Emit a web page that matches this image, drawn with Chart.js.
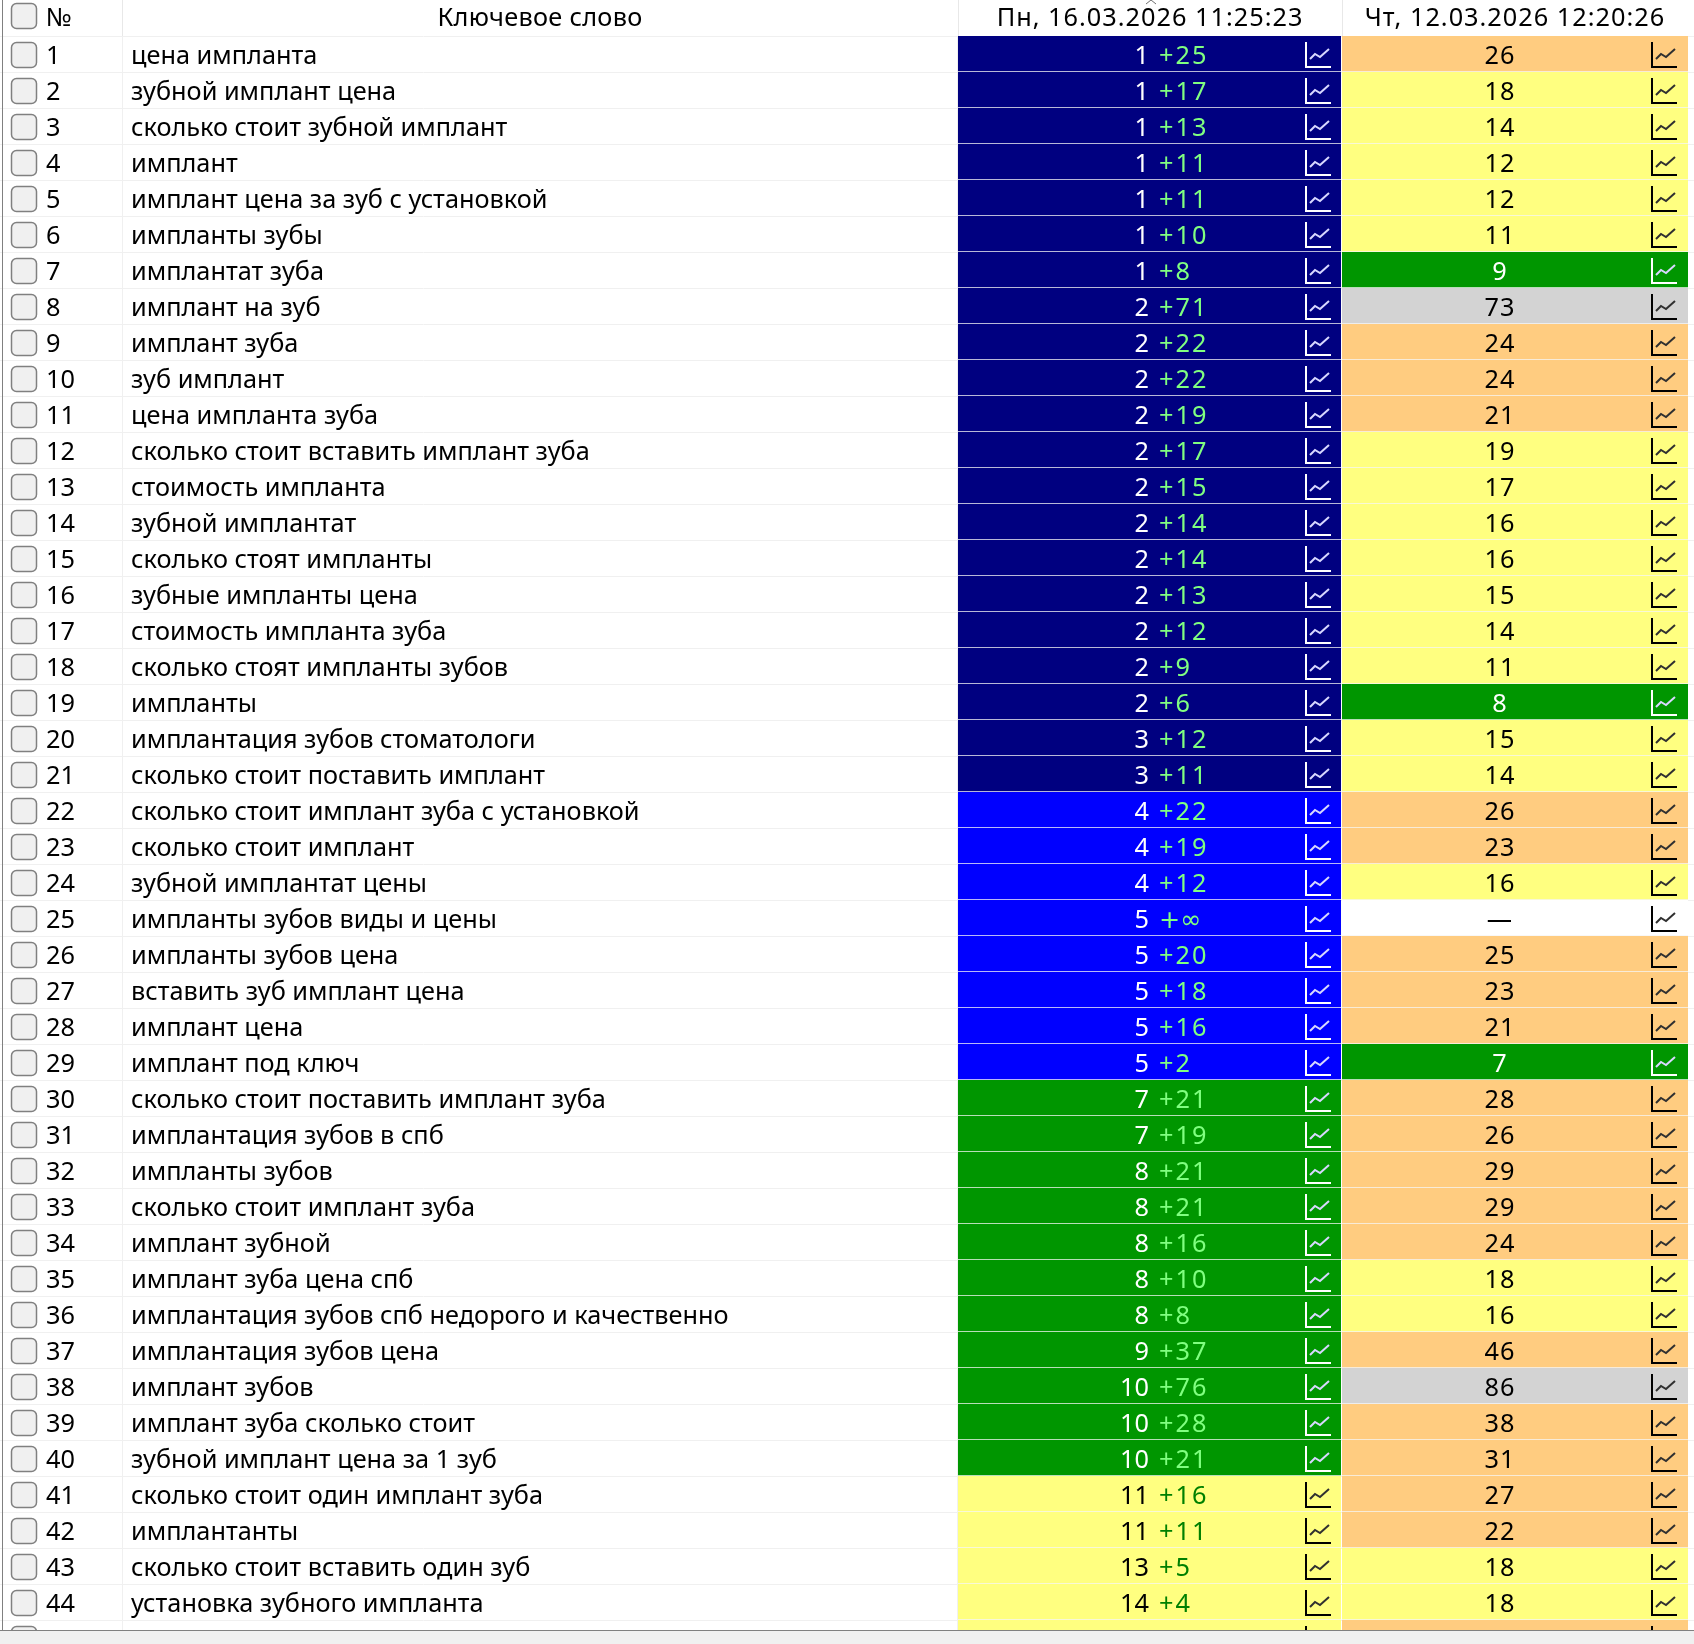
<!DOCTYPE html>
<html lang="ru">
<head>
<meta charset="utf-8">
<title>Позиции ключевых слов</title>
<script src="https://cdn.jsdelivr.net/npm/chart.js@4"></script>
<style>
    html, body { margin: 0; height: 100%; overflow: hidden; background: #f0f0f0; }
    #frame { width: 1694px; height: 1631px; overflow: hidden; background: #fff; border-bottom: 1px solid #808080; box-sizing: border-box; }
    canvas { display: block; }
</style>
</head>
<body>
<div id="frame"><canvas id="chart" width="1694" height="1656"></canvas></div>
<script>
const headerKeyword = "Ключевое слово"
const headerNumber = "№"
const headerDates = ["Пн, 16.03.2026 11:25:23", "Чт, 12.03.2026 12:20:26"]

const keywords = [
    "цена импланта", "зубной имплант цена", "сколько стоит зубной имплант", "имплант",
    "имплант цена за зуб с установкой", "импланты зубы", "имплантат зуба", "имплант на зуб",
    "имплант зуба", "зуб имплант", "цена импланта зуба", "сколько стоит вставить имплант зуба",
    "стоимость импланта", "зубной имплантат", "сколько стоят импланты", "зубные импланты цена",
    "стоимость импланта зуба", "сколько стоят импланты зубов", "импланты", "имплантация зубов стоматологи",
    "сколько стоит поставить имплант", "сколько стоит имплант зуба с установкой", "сколько стоит имплант", "зубной имплантат цены",
    "импланты зубов виды и цены", "импланты зубов цена", "вставить зуб имплант цена", "имплант цена",
    "имплант под ключ", "сколько стоит поставить имплант зуба", "имплантация зубов в спб", "импланты зубов",
    "сколько стоит имплант зуба", "имплант зубной", "имплант зуба цена спб", "имплантация зубов спб недорого и качественно",
    "имплантация зубов цена", "имплант зубов", "имплант зуба сколько стоит", "зубной имплант цена за 1 зуб",
    "сколько стоит один имплант зуба", "имплантанты", "сколько стоит вставить один зуб", "установка зубного импланта",
    "" // row 45 is cut off by the window
]
const positions = [
    1, 1, 1, 1, 1, 1, 1, 2, 2, 2, 2, 2, 2, 2, 2, 2, 2, 2, 2, 3, 3, 4,
    4, 4, 5, 5, 5, 5, 5, 7, 7, 8, 8, 8, 8, 8, 9, 10, 10, 10, 11, 11, 13, 14, 14
]
// null = no earlier position (shown as a dash and +∞)
const previous = [
    26, 18, 14, 12, 12, 11, 9, 73, 24, 24, 21, 19, 17, 16, 16, 15, 14, 11, 8, 15, 14, 26,
    23, 16, null, 25, 23, 21, 7, 28, 26, 29, 29, 24, 18, 16, 46, 86, 38, 31, 27, 22, 18, 18, 25
]
const rows = keywords.map((_, i) => String(i + 1))

const COL_NUMBER = 122, COL_FIRST = 958, COL_SECOND = 1342, COL_END = 1688
const ICON = 26
const FONT = '25.3px "Noto Sans"'

const navy = "#000080", blue = "#0000ff", green = "#009600", yellow = "#ffff80", orange = "#ffcc80", grey = "#d3d3d3"

function bandColor(pos) {
    if (pos === null) return "#ffffff"
    if (pos <= 3) return navy
    if (pos <= 6) return blue
    if (pos <= 10) return green
    if (pos <= 20) return yellow
    if (pos <= 50) return orange
    return grey
}

const isDark = c => c === navy || c === blue || c === green

function drawIcon(ctx, x, y, dark) {
    ctx.strokeStyle = dark ? "#ffffff" : "#000000"
    ctx.lineWidth = 2
    ctx.beginPath()
    ctx.moveTo(x + 1, y)
    ctx.lineTo(x + 1, y + ICON - 1)
    ctx.lineTo(x + ICON, y + ICON - 1)
    ctx.stroke()
    ctx.strokeStyle = dark ? "#d8d8ff" : "#303030"
    ctx.beginPath()
    ctx.moveTo(x + 5, y + 17)
    ctx.lineTo(x + 10, y + 12)
    ctx.lineTo(x + 15, y + 15)
    ctx.lineTo(x + 24, y + 7)
    ctx.stroke()
}

function drawCheckbox(ctx, x, y) {
    ctx.fillStyle = "#f0f0f0"
    ctx.strokeStyle = "#808080"
    ctx.lineWidth = 1.5
    ctx.beginPath()
    ctx.roundRect(x + .5, y + .5, 25, 25, 5)
    ctx.fill()
    ctx.stroke()
}

const tableText = {
    id: "tableText",
    afterDatasetsDraw(chart) {
        const { ctx, scales: { x, y } } = chart
        const px = v => x.getPixelForValue(v)
        ctx.save()
        ctx.font = FONT
        ctx.textBaseline = "middle"

        // header
        drawCheckbox(ctx, 11, 3)
        ctx.fillStyle = "#000"
        ctx.textAlign = "left"
        ctx.fillText(headerNumber, px(46), 19)
        ctx.textAlign = "center"
        ctx.letterSpacing = ".3px"
        ctx.fillText(headerKeyword, px(540), 19)
        ctx.letterSpacing = "1px"
        ctx.fillText(headerDates[0], px(1150), 19)
        ctx.fillText(headerDates[1], px(1515), 19)
        ctx.letterSpacing = "0px"
        ctx.strokeStyle = "#e8e8e8"
        ctx.lineWidth = 1
        ctx.beginPath()
        for (const edge of [COL_NUMBER, COL_FIRST, COL_SECOND]) {
            ctx.moveTo(px(edge) + .5, 0)
            ctx.lineTo(px(edge) + .5, 36)
        }
        ctx.stroke()
        ctx.strokeStyle = "#707070"
        ctx.beginPath()
        ctx.moveTo(1146, 4)
        ctx.lineTo(1151, 0)
        ctx.lineTo(1156, 4)
        ctx.stroke()

        rows.forEach((row, i) => {
            const cy = y.getPixelForValue(i)
            const first = isDark(bandColor(positions[i])), second = isDark(bandColor(previous[i]))
            const ty = cy + 3
            drawCheckbox(ctx, 11, cy - 12)

            ctx.fillStyle = "#000"
            ctx.textAlign = "left"
            ctx.fillText(row, px(46), ty)
            ctx.fillText(keywords[i], px(131), ty)

            // first column: position, then the change against the earlier date
            ctx.fillStyle = first ? "#fff" : "#000"
            ctx.textAlign = "right"
            ctx.fillText(positions[i], px(1149), ty)
            ctx.fillStyle = first ? "#80ff80" : "#008000"
            ctx.textAlign = "left"
            if (previous[i] === null) {
                ctx.font = '25.3px "DejaVu Sans"'
                ctx.fillText("+∞", px(1159), ty)
                ctx.font = FONT
            } else {
                ctx.letterSpacing = "2px"
                ctx.fillText("+" + (previous[i] - positions[i]), px(1159), ty)
                ctx.letterSpacing = "0px"
            }

            ctx.fillStyle = second ? "#fff" : "#000"
            ctx.textAlign = "center"
            ctx.letterSpacing = "1px"
            ctx.fillText(previous[i] === null ? "—" : previous[i], px(1500), ty)
            ctx.letterSpacing = "0px"

            drawIcon(ctx, px(1305), cy - 12, first)
            drawIcon(ctx, px(1651), cy - 12, second)
        })

        // frame on the left
        ctx.strokeStyle = "#808080"
        ctx.lineWidth = 1
        ctx.beginPath()
        ctx.moveTo(2.5, 0)
        ctx.lineTo(2.5, chart.height)
        ctx.stroke()
        ctx.restore()
    }
}

new Chart(document.getElementById("chart"), {
    type: "bar",
    data: {
        labels: rows,
        datasets: [{
            label: headerDates[0],
            data: rows.map(() => [COL_FIRST, COL_SECOND - 1]),
            backgroundColor: positions.map(bandColor)
        }, {
            label: headerDates[1],
            data: rows.map(() => [COL_SECOND, COL_END]),
            backgroundColor: previous.map(bandColor)
        }]
    },
    options: {
        indexAxis: "y",
        responsive: false,
        animation: false,
        devicePixelRatio: 1,
        layout: { padding: { top: 36 } },
        datasets: {
            bar: {
                grouped: false,
                barPercentage: 1,
                categoryPercentage: 1,
                borderSkipped: false,
                borderWidth: { bottom: 1 },
                borderColor: "#f6f6f6"
            }
        },
        plugins: { legend: { display: false }, tooltip: { enabled: false } },
        scales: {
            x: {
                type: "linear",
                min: 0,
                max: 1694,
                afterBuildTicks: scale => {
                    scale.ticks = [{ value: COL_NUMBER }, { value: COL_FIRST }, { value: COL_SECOND }]
                },
                ticks: { display: false },
                border: { display: false },
                grid: { color: "#f0f0f0", drawTicks: false }
            },
            y: {
                ticks: { display: false, autoSkip: false },
                border: { display: false },
                grid: { color: "#f0f0f0", drawTicks: false, offset: true }
            }
        }
    },
    plugins: [tableText]
})
</script>
</body>
</html>
